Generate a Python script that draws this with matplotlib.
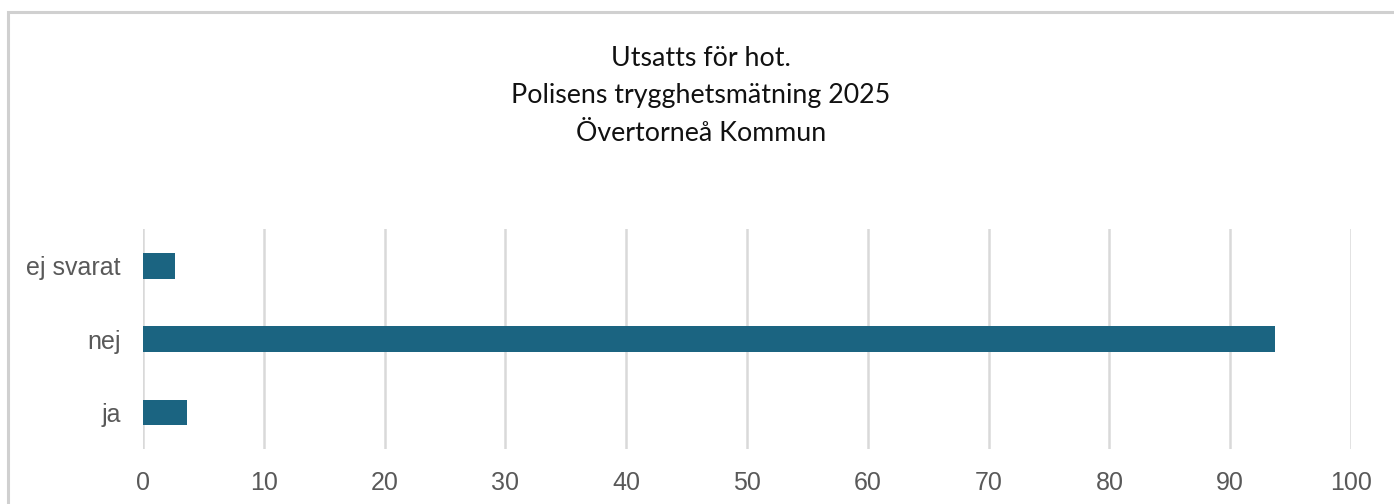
import matplotlib
matplotlib.use("Agg")
import matplotlib.pyplot as plt
from matplotlib.patches import Rectangle

categories = ["ja", "nej", "ej svarat"]
values = [3.67, 93.7, 2.67]
xticks = [0, 10, 20, 30, 40, 50, 60, 70, 80, 90, 100]
title_lines = ["Utsatts för hot.", "Polisens trygghetsmätning 2025", "Övertorneå Kommun"]

W, H = 1394, 504
fig = plt.figure(figsize=(W / 100, H / 100), dpi=100)
fig.patch.set_facecolor("white")

# light border (frame of the chart area, cut off at right/bottom)
fig.patches.append(Rectangle((8 / W, -0.1), 1.2, (1 - 12 / H) + 0.1, transform=fig.transFigure,
                             fill=False, edgecolor="#d0d0d0", linewidth=2.2, zorder=0))

ax = fig.add_axes([143 / W, 1 - 449 / H, (1351 - 143) / W, (449 - 229) / H])
y = list(range(len(categories)))
ax.barh(y, values, height=0.35, color="#1b6481", zorder=3)
ax.set_xlim(0, 100)
ax.set_ylim(-0.5, 2.5)
ax.set_xticks(xticks)
ax.set_xticklabels([str(t) for t in xticks])
ax.set_yticks(y)
ax.set_yticklabels(categories)
ax.grid(axis="x", color="#d9d9d9", linewidth=1.8, zorder=0)
ax.grid(axis="y", visible=False)
for s in ax.spines.values():
    s.set_visible(False)
ax.tick_params(axis="both", length=0, labelsize=18, labelcolor="#595959")
ax.tick_params(axis="x", pad=16)
ax.tick_params(axis="y", pad=16)
for lab in ax.get_xticklabels() + ax.get_yticklabels():
    lab.set_fontfamily("Liberation Sans")

baselines = [66, 103.5, 141]
for line, b in zip(title_lines, baselines):
    fig.text(701 / W, 1 - b / H, line, ha="center", va="baseline",
             fontsize=19.3, family="Lato", fontweight="normal", color="#111111")

fig.savefig("out.png", dpi=100, facecolor="white")
